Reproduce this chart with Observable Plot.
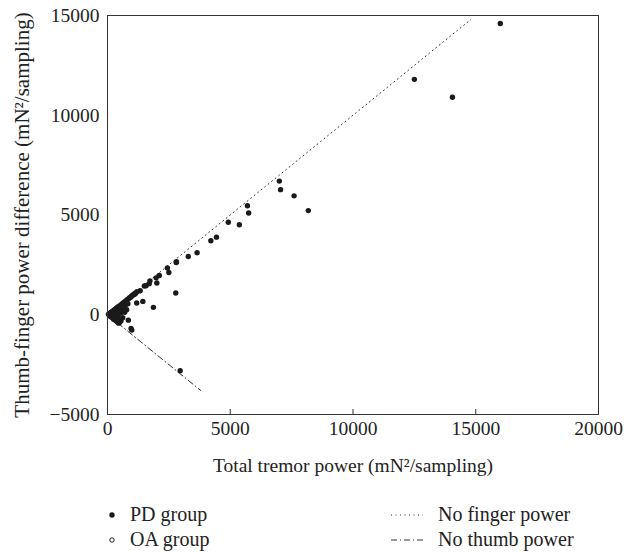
<!DOCTYPE html>
<html>
<head>
<meta charset="utf-8">
<script src="https://cdn.jsdelivr.net/npm/d3@7"></script>
<script src="https://cdn.jsdelivr.net/npm/@observablehq/plot@0.6"></script>
<style>
  body { margin: 0; background: #fff; font-family: "Liberation Serif", "DejaVu Serif", serif; }
  #chart svg { display: block; }
  .legend { position: relative; height: 73px; font-size: 20px; color: #222; }
  .item { position: absolute; display: flex; align-items: center; white-space: nowrap; }
  .item svg { display: block; }
</style>
</head>
<body>
<div id="chart"></div>
<div class="legend">
  <div class="item" style="left:106px; top:23px;"><svg width="12" height="12" style="margin-right:12px"><circle cx="6" cy="6" r="2.7" fill="#1a1a1a"/></svg>PD group</div>
  <div class="item" style="left:106px; top:48px;"><svg width="12" height="12" style="margin-right:12px"><circle cx="6" cy="6" r="2.2" fill="none" stroke="#1a1a1a" stroke-width="1"/></svg>OA group</div>
  <div class="item" style="left:390px; top:23px;"><svg width="34" height="12" style="margin-right:14px"><line x1="1" y1="6" x2="33" y2="6" stroke="#333" stroke-width="1" stroke-dasharray="1,3.5"/></svg>No finger power</div>
  <div class="item" style="left:390px; top:48px;"><svg width="34" height="12" style="margin-right:14px"><line x1="1" y1="6" x2="33" y2="6" stroke="#333" stroke-width="1" stroke-dasharray="6,3,1,3"/></svg>No thumb power</div>
</div>
<script>
// PD group (filled dots)
const pdX = [16000, 12500, 14050, 7000, 7050, 7600, 8180, 5700, 5750, 4920, 5370, 4440, 4210, 3650, 3290, 2810, 2800, 2440, 2500, 2110, 1980, 2010, 1730, 1700, 1570, 1500, 1330, 1120, 2780, 1870, 1190, 1440, 850, 960, 990, 2960,
  40, 60, 80, 100, 110, 130, 150, 160, 180, 200, 210, 230, 250, 260, 280, 300, 310, 330, 350, 370, 380, 400, 420, 440, 450, 470, 500, 520, 540, 560, 580, 600, 620, 650, 680, 700, 720, 750, 780, 800, 830, 860, 900, 940, 980, 1020, 1060, 1100, 1150, 1200,
  120, 180, 240, 300, 350, 400, 450, 500, 550, 300, 420, 480, 560, 620, 700, 380, 250, 200, 150, 330, 460];
const pdY = [14600, 11800, 10900, 6700, 6270, 5960, 5220, 5460, 5100, 4640, 4510, 3890, 3710, 3110, 2920, 2660, 2620, 2340, 2120, 1970, 1850, 1590, 1700, 1560, 1450, 1440, 1200, 1040, 1090, 370, 590, 670, -270, -690, -770, -2810,
  20, 40, -10, 80, 30, 100, -30, 140, 60, 170, -60, 190, 100, 230, 20, 260, -120, 290, 150, 330, -40, 360, 200, 400, -200, 420, 250, 470, 100, 510, 300, 550, -150, 600, 350, 650, 450, 690, 250, 750, 550, 800, 850, 880, 930, 980, 1000, 1050, 1090, 1150,
  -80, -140, -180, -250, -300, -350, -420, -380, -300, 0, -100, 60, 150, 400, 120, -250, -220, -100, 50, -180, -300];
// OA group (open circles), hidden within the origin cluster
const oaX = [60, 90, 120, 180, 240, 300, 350, 400];
const oaY = [30, -60, -20, 90, 40, 150, -100, 200];

// Reference lines
const noFingerX = [0, 14800];
const noFingerY = [0, 14800];
const noThumbX = [0, 3800];
const noThumbY = [0, -3800];

const xTicks = [0, 5000, 10000, 15000, 20000];
const yTicks = [-5000, 0, 5000, 10000, 15000];

const pd = pdX.map((x, i) => ({x, y: pdY[i]}));
const oa = oaX.map((x, i) => ({x, y: oaY[i]}));
const lineF = noFingerX.map((x, i) => ({x, y: noFingerY[i]}));
const lineT = noThumbX.map((x, i) => ({x, y: noThumbY[i]}));

const height = 480, mTop = 15, mBottom = 66;
const innerH = height - mTop - mBottom;

const chart = Plot.plot({
  width: 635,
  height,
  marginTop: mTop,
  marginBottom: mBottom,
  marginLeft: 107,
  marginRight: 37,
  style: {fontFamily: '"Liberation Serif", "DejaVu Serif", serif', fontSize: "19.5px", color: "#222", background: "#fff"},
  x: {domain: [0, 20000]},
  y: {domain: [-5000, 15000]},
  marks: [
    Plot.line(lineF, {x: "x", y: "y", stroke: "#333", strokeWidth: 1, strokeDasharray: "1,3.5"}),
    Plot.line(lineT, {x: "x", y: "y", stroke: "#333", strokeWidth: 1, strokeDasharray: "6,3,1,3"}),
    Plot.dot(oa, {x: "x", y: "y", r: 2.2, stroke: "#1a1a1a", fill: "white", strokeWidth: 1}),
    Plot.dot(pd, {x: "x", y: "y", r: 2.7, fill: "#1a1a1a", stroke: "none"}),
    Plot.ruleX(xTicks.slice(1, -1), {x: d => d, stroke: "#333", strokeWidth: 1, insetTop: innerH - 5}),
    Plot.axisX(xTicks, {tickSize: 0, tickPadding: 7, tickFormat: d => String(d), fontSize: 19.5,
      label: null}),
    Plot.axisX({ticks: [], tickSize: 0, fontSize: 19.5,
      label: "Total tremor power (mN²/sampling)", labelAnchor: "center", labelOffset: 57, labelArrow: "none"}),
    Plot.axisY(yTicks, {tickSize: 0, tickPadding: 8, tickFormat: d => d < 0 ? "\u2212" + Math.abs(d) : String(d), fontSize: 19.5,
      label: null}),
    Plot.axisY({ticks: [], tickSize: 0, fontSize: 21,
      label: "Thumb-finger power difference (mN²/sampling)", labelAnchor: "center", labelOffset: 93, labelArrow: "none"}),
    Plot.frame({stroke: "#333", strokeWidth: 1})
  ]
});
document.getElementById("chart").appendChild(chart);
</script>
</body>
</html>
